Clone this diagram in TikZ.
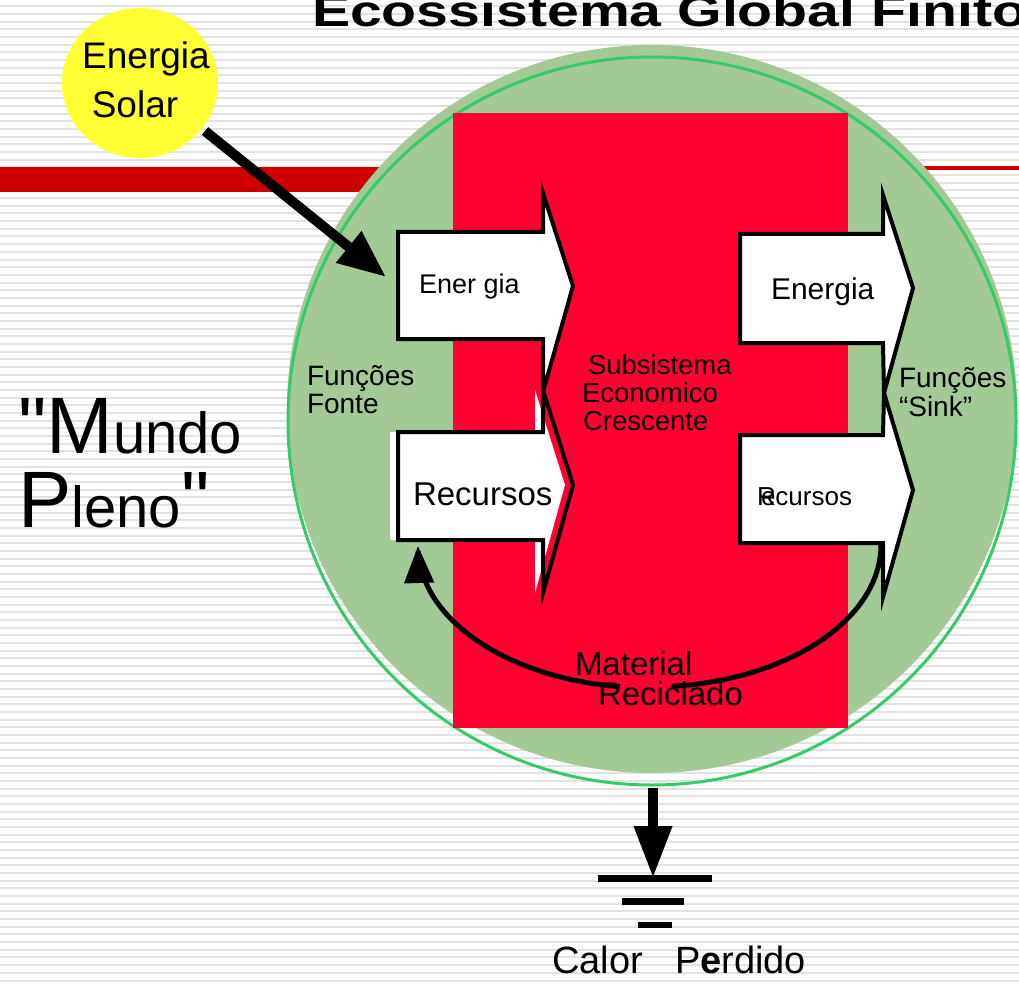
\documentclass[tikz,border=0pt]{standalone}
\usepackage{fontspec}
\setmainfont{Liberation Sans}
\newfontfamily\plainsans{Liberation Sans}[Ligatures=TeXOff]
\usetikzlibrary{arrows.meta,shapes.geometric}
\definecolor{stripe}{HTML}{E2E2E2}
\definecolor{barred}{HTML}{CC0000}
\definecolor{ecogreen}{HTML}{A3C994}
\definecolor{ringgreen}{HTML}{33CC66}
\definecolor{econred}{HTML}{FF0033}
\definecolor{sunyellow}{HTML}{FFFF33}
\newcommand{\fsz}[1]{\fontsize{#1}{#1}\selectfont}
\begin{document}
\begin{tikzpicture}[x=1pt,y=-1pt,
  lbl/.style={inner sep=0pt, outer sep=0pt, anchor=base west},
  blockarrow/.style={draw=black, line width=4pt, line join=miter, miter limit=10},
  thickarrow/.style={line width=10pt},
]
\useasboundingbox (0,0) rectangle (1019,984);
\clip (0,0) rectangle (1019,984);
\fill[white] (0,0) rectangle (1019,984);
% striped background
\foreach \i in {0,...,127}
  \draw[stripe, line width=2pt] (0,{6.4+7.67*\i}) -- (1019,{6.4+7.67*\i});
% red bar
\fill[barred] (0,167) rectangle (660,192);
\fill[barred] (660,166) rectangle (1019,170);
% title
\node[lbl] (title) at (312,27) {\fsz{44}\bfseries\scalebox{1.3}[1]{Ecossistema Global Finito}};
% ecosystem
\fill[ecogreen] (652,409) ellipse [x radius=365pt, y radius=364pt];
\draw[ringgreen, line width=3pt] (652,421) ellipse [x radius=364pt, y radius=364pt];
\fill[econred] (453,113) rectangle (848,728);
% sun
\node[ellipse, fill=sunyellow, minimum width=156pt, minimum height=150pt, inner sep=0pt] (sun) at (140,83) {};
\node[inner sep=0pt, anchor=base] (sun1) at (146,69) {\fsz{37}Energia};
\node[inner sep=0pt, anchor=base] (sun2) at (135,118) {\fsz{37}Solar};
% left block arrows
\begin{scope}[xshift=-8pt]
\fill[white] (398,432) -- (543,432) -- (543,390) -- (573,485) -- (543,593) -- (543,540) -- (398,540) -- cycle;
\end{scope}
\draw[blockarrow] (398,432) -- (543,432) -- (543,390) -- (573,485) -- (543,593) -- (543,540) -- (398,540) -- cycle;
\draw[blockarrow, fill=white] (398,232) -- (543,232) -- (543,193) -- (573,286) -- (543,392) -- (543,339) -- (398,339) -- cycle;
% right block arrows
\draw[blockarrow, fill=white] (740,435) -- (883,435) -- (884,393) -- (913,490) -- (883,597) -- (883,543) -- (740,543) -- cycle;
\draw[blockarrow, fill=white] (740,234) -- (883,234) -- (883,195) -- (913,288) -- (884,393) -- (883,343) -- (740,343) -- cycle;
% solar arrow
\coordinate (solstart) at (205,131);
\coordinate (solend) at (386,277);
\draw[thickarrow, -{Triangle[length=48pt,width=38pt]}] (solstart) -- (solend);
% recycle arrow
\draw[line width=5pt] plot[domain=0:84.6, samples=40] ({650+231*cos(\x)}, {545+142*sin(\x)});
\draw[line width=5pt, -{Triangle[length=37pt,width=29pt]}] plot[domain=97.4:180, samples=40] ({650+232*cos(\x)}, {546+142*sin(\x)});
% heat loss
\coordinate (gtop) at (653,788);
\coordinate (gbar) at (653,878);
\draw[thickarrow, -{Triangle[length=52pt,width=36pt]}] (gtop) -- (gbar);
\fill (598,875) rectangle (712,882);
\fill (622,898) rectangle (684,905);
\fill (638,922) rectangle (672,928);
% labels
\node[lbl] (e1) at (419,293) {\fsz{27}Ener gia};
\node[lbl] (r1) at (413,505) {\fsz{33}Recursos};
\node[lbl] (e2) at (771,299) {\fsz{30}Energia};
\node[lbl] (r2) at (757,505) {\fsz{26}\makebox[0pt][l]{R}\hspace{4pt}ecursos};
\node[lbl] (ff1) at (307,385) {\fsz{28}Funções};
\node[lbl] (ff2) at (307,413) {\fsz{28}Fonte};
\node[lbl] (fs1) at (899,387) {\fsz{28}Funções};
\node[lbl] (fs2) at (899,416) {\fsz{28}“Sink”};
\node[lbl] (s1) at (588,374) {\fsz{27.5}Subsistema};
\node[lbl] (s2) at (582,402) {\fsz{27.5}Economico};
\node[lbl] (s3) at (583,430) {\fsz{27.5}Crescente};
\node[lbl] (m1) at (575,675) {\fsz{33}Material};
\node[lbl] (m2) at (598,705) {\fsz{33}Reciclado};
\node[lbl] (c1) at (552,973) {\fsz{38}Calor};
\node[lbl] (c2) at (675,973) {\fsz{38}P\textbf{e}rdido};
\node[lbl] (mp1) at (18,453) {\plainsans\fsz{80}"M\fsz{58}undo};
\node[lbl] (mp2) at (18,527) {\plainsans\fsz{80}P\fsz{58}leno\fsz{80}"};
\end{tikzpicture}
\end{document}
